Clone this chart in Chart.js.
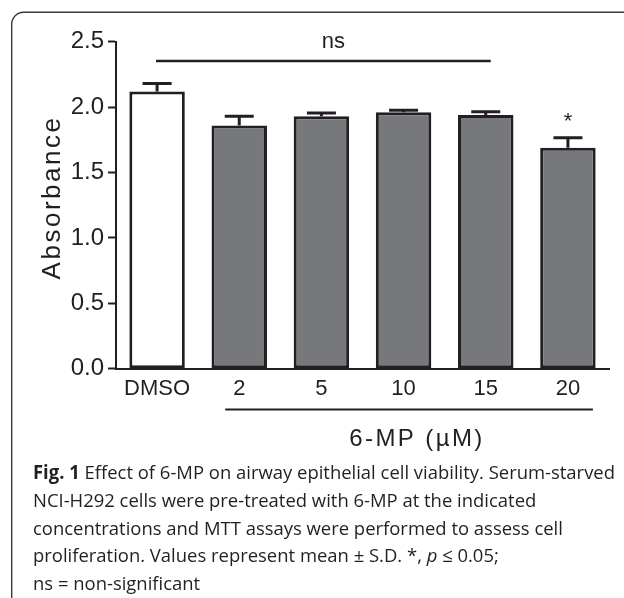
<!DOCTYPE html>
<html>
<head>
<meta charset="utf-8">
<script src="https://cdn.jsdelivr.net/npm/chart.js@4.4.0/dist/chart.umd.min.js"></script>
<style>
  html, body { margin: 0; padding: 0; background: #fff; }
</style>
</head>
<body>
<canvas id="chartViability" width="624" height="598"></canvas>
<script>
// values
var labels = ['DMSO', '2', '5', '10', '15', '20']
var means = [2.12, 1.86, 1.93, 1.96, 1.94, 1.69]
var sds = [0.06, 0.07, 0.025, 0.015, 0.025, 0.075]
var significant = [false, false, false, false, false, true]
var yMin = 0
var yMax = 2.5
var yStep = 0.5

var ink = '#231f20'
var barGray = '#77787c'
var fills = labels.map(function (l) { return l === 'DMSO' ? '#ffffff' : barGray })

var captionLines = [
  [{ t: 'Fig. 1', w: 'bold' }, { t: ' Effect of 6-MP on airway epithelial cell viability. Serum-starved' }],
  [{ t: 'NCI-H292 cells were pre-treated with 6-MP at the indicated' }],
  [{ t: 'concentrations and MTT assays were performed to assess cell' }],
  [{ t: 'proliferation. Values represent mean \u00b1 S.D. *, ' }, { t: 'p', s: 'italic' }, { t: ' \u2264 0.05;' }],
  [{ t: 'ns = non-significant' }]
]

var sansFont = "'Liberation Sans', Arial, sans-serif"
var captionFont = "'Open Sans', sans-serif"

var drawErrorBars = {
  id: 'errorBars',
  afterDatasetsDraw: function (chart) {
    var ctx = chart.ctx
    var y = chart.scales.y
    var meta = chart.getDatasetMeta(0)
    ctx.save()
    ctx.strokeStyle = ink
    ctx.lineWidth = 3
    meta.data.forEach(function (bar, i) {
      var top = y.getPixelForValue(means[i] + sds[i])
      ctx.beginPath()
      ctx.moveTo(bar.x, bar.y)
      ctx.lineTo(bar.x, top)
      ctx.moveTo(bar.x - 14.5, top)
      ctx.lineTo(bar.x + 14.5, top)
      ctx.stroke()
    })
    ctx.restore()
  }
}

var drawNotes = {
  id: 'notes',
  beforeDraw: function (chart) {
    // rounded frame around the figure
    var ctx = chart.ctx
    ctx.save()
    ctx.strokeStyle = '#3a3a3a'
    ctx.lineWidth = 1.4
    ctx.beginPath()
    ctx.moveTo(11.7, 620)
    ctx.lineTo(11.7, 24)
    ctx.arcTo(11.7, 12.3, 24, 12.3, 12)
    ctx.lineTo(640, 12.3)
    ctx.stroke()
    ctx.restore()
  },
  afterDraw: function (chart) {
    var ctx = chart.ctx
    var x = chart.scales.x
    var y = chart.scales.y
    var meta = chart.getDatasetMeta(0)
    ctx.save()
    ctx.fillStyle = ink
    ctx.strokeStyle = ink

    // ns bracket
    var nsY = y.getPixelForValue(2.352)
    var x0 = x.getPixelForValue(0)
    var x4 = x.getPixelForValue(4)
    ctx.lineWidth = 2.5
    ctx.beginPath()
    ctx.moveTo(x0 - 1, nsY)
    ctx.lineTo(x4 + 5, nsY)
    ctx.stroke()
    ctx.font = '22px ' + sansFont
    ctx.textAlign = 'center'
    ctx.textBaseline = 'alphabetic'
    ctx.fillText('ns', (x0 + x4) / 2 + 12, nsY - 13)

    // significance stars
    meta.data.forEach(function (bar, i) {
      if (!significant[i]) return
      var top = y.getPixelForValue(means[i] + sds[i])
      ctx.fillText('*', bar.x, top - 10)
    })

    // 6-MP group line and label
    var x1 = x.getPixelForValue(1)
    var x5 = x.getPixelForValue(5)
    ctx.lineWidth = 2
    ctx.beginPath()
    ctx.moveTo(x1 - 14, 409.5)
    ctx.lineTo(x5 + 25, 409.5)
    ctx.stroke()
    ctx.font = '24px ' + sansFont
    ctx.letterSpacing = '2.4px'
    ctx.fillText('6-MP (\u00b5M)', 417, 445.7)

    // y axis title
    ctx.save()
    ctx.font = '26px ' + sansFont
    ctx.letterSpacing = '2.5px'
    ctx.translate(60, 197.5)
    ctx.rotate(-Math.PI / 2)
    ctx.fillText('Absorbance', 0, 0)
    ctx.restore()
    ctx.letterSpacing = '0px'

    // caption
    var size = 19
    var fontFor = function (seg) {
      return (seg.s || 'normal') + ' ' + (seg.w || 'normal') + ' ' + size + 'px ' + captionFont
    }
    var lineWidth = function (segs) {
      var w = 0
      segs.forEach(function (seg) { ctx.font = fontFor(seg); w += ctx.measureText(seg.t).width })
      return w
    }
    var r = 582 / lineWidth(captionLines[0])
    ctx.textAlign = 'left'
    ctx.translate(33, 0)
    ctx.scale(r, 1)
    captionLines.forEach(function (segs, li) {
      var cx = 0
      var by = 479 + li * 27.75
      segs.forEach(function (seg) {
        ctx.font = fontFor(seg)
        ctx.fillText(seg.t, cx, by)
        cx += ctx.measureText(seg.t).width
      })
    })
    ctx.restore()
  }
}

var ctx = document.getElementById('chartViability')

var chartViability = new Chart(ctx, {
  type: 'bar',
  data: {
    labels: labels,
    datasets: [{
      data: means,
      backgroundColor: fills,
      borderColor: ink,
      borderWidth: 3,
      borderSkipped: false,
      categoryPercentage: 1,
      barPercentage: 0.675
    }]
  },
  options: {
    responsive: false,
    animation: false,
    devicePixelRatio: 1,
    layout: { padding: { left: 0, right: 15, top: 41.7, bottom: 0 } },
    plugins: {
      legend: { display: false },
      tooltip: { enabled: false }
    },
    scales: {
      x: {
        grid: { display: false, drawTicks: false },
        border: { display: true, width: 2, color: ink },
        ticks: { color: ink, padding: 7, font: { family: sansFont, size: 22 } },
        afterFit: function (scale) { scale.height = 598 - 368.7 }
      },
      y: {
        min: yMin,
        max: yMax,
        grid: { drawOnChartArea: false, drawTicks: true, tickLength: 8, tickWidth: 2, tickColor: ink },
        border: { display: true, width: 2, color: ink },
        ticks: {
          stepSize: yStep,
          color: ink,
          padding: 4,
          font: { family: sansFont, size: 24 },
          callback: function (v) { return v.toFixed(1) }
        },
        afterFit: function (scale) { scale.width = 116 }
      }
    }
  },
  plugins: [drawErrorBars, drawNotes]
});
</script>
</body>
</html>
